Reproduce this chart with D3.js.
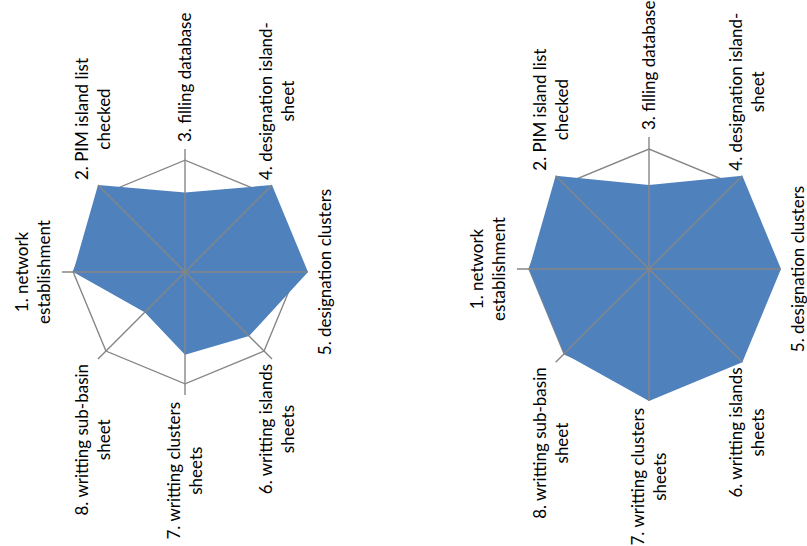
<!DOCTYPE html>
<html>
<head>
<meta charset="utf-8">
<script src="https://cdn.jsdelivr.net/npm/d3@7"></script>
<style>
  body { margin: 0; background: #fff; }
  svg { display: block; }
</style>
</head>
<body>
<div id="chart"></div>
<script>
// axis labels, one array of lines per axis (clockwise from axis 1)
const axisLabels = [
    ["1. network", "establishment"],
    ["2. PIM island list", "checked"],
    ["3. filling database"],
    ["4. designation island-", "sheet"],
    ["5. designation clusters"],
    ["6. writting islands", "sheets"],
    ["7. writting clusters", "sheets"],
    ["8. writting sub-basin", "sheet"]
];

// values (1.0 = grid ring)
const leftValues = [1.0, 1.1, 0.71, 1.1, 1.1, 0.81, 0.74, 0.51];
const rightValues = [1.0, 1.1, 0.70, 1.1, 1.1, 1.1, 1.1, 1.0];

const gridLevels = [1.0];
const valueMax = 1.1;

const width = 807;
const height = 546;

const svg = d3.select("#chart")
    .append("svg")
    .attr("width", width)
    .attr("height", height);

function drawRadar(values, cx, cy, spoke) {
    const n = axisLabels.length;
    const angle = d3.scaleLinear().domain([0, n]).range([0, 2 * Math.PI]);
    const r = d3.scaleLinear().domain([0, valueMax]).range([0, spoke]);

    // whole chart is turned a quarter turn counter-clockwise
    const g = svg.append("g")
        .attr("transform", `translate(${cx},${cy}) rotate(-90)`);

    const radial = d3.lineRadial()
        .angle((d, i) => angle(i))
        .radius(d => r(d))
        .curve(d3.curveLinearClosed);

    // grid ring
    g.selectAll(".ring")
        .data(gridLevels)
        .enter()
        .append("path")
        .attr("class", "ring")
        .attr("d", lev => radial(d3.range(n).map(() => lev)))
        .attr("fill", "none")
        .attr("stroke", "#868686")
        .attr("stroke-width", 1.4);

    // filled series
    g.append("path")
        .attr("d", radial(values))
        .attr("fill", "#4f81bd");

    // spokes
    g.selectAll(".spoke")
        .data(d3.range(n))
        .enter()
        .append("line")
        .attr("x1", 0)
        .attr("y1", 0)
        .attr("x2", i => r(valueMax) * Math.sin(angle(i)))
        .attr("y2", i => -r(valueMax) * Math.cos(angle(i)))
        .attr("stroke", "#868686")
        .attr("stroke-width", 1.4);

    // labels
    const lineH = 22;
    axisLabels.forEach((lines, i) => {
        const a = angle(i);
        const s = Math.sin(a), c = Math.cos(a);
        const ax = (spoke + 7) * s;
        const ay = -(spoke + 7) * c;

        const t = g.append("text")
            .attr("font-family", "Lato, 'Open Sans', sans-serif")
            .attr("font-size", 17)
            .attr("fill", "#000")
            .attr("text-anchor", "middle");

        const spans = lines.map(l => t.append("tspan").text(l));
        const blockW = d3.max(spans, sp => sp.node().getComputedTextLength());

        let bx = ax;
        if (s > 0.1) bx = ax + blockW / 2;
        else if (s < -0.1) bx = ax - blockW / 2;

        let firstBase;
        if (Math.abs(s) < 0.1 && c > 0) {
            // top: last baseline just past the spoke tip
            firstBase = -(spoke + 12) - (lines.length - 1) * lineH;
        } else if (Math.abs(s) < 0.1 && c < 0) {
            firstBase = spoke + 23;
        } else {
            firstBase = ay - (lines.length - 1) * lineH / 2 + 6;
        }

        spans.forEach((sp, k) => {
            sp.attr("x", bx).attr("y", firstBase + k * lineH);
        });
    });
}

drawRadar(leftValues, 185, 272, 123);
drawRadar(rightValues, 649, 269, 132);
</script>
</body>
</html>
